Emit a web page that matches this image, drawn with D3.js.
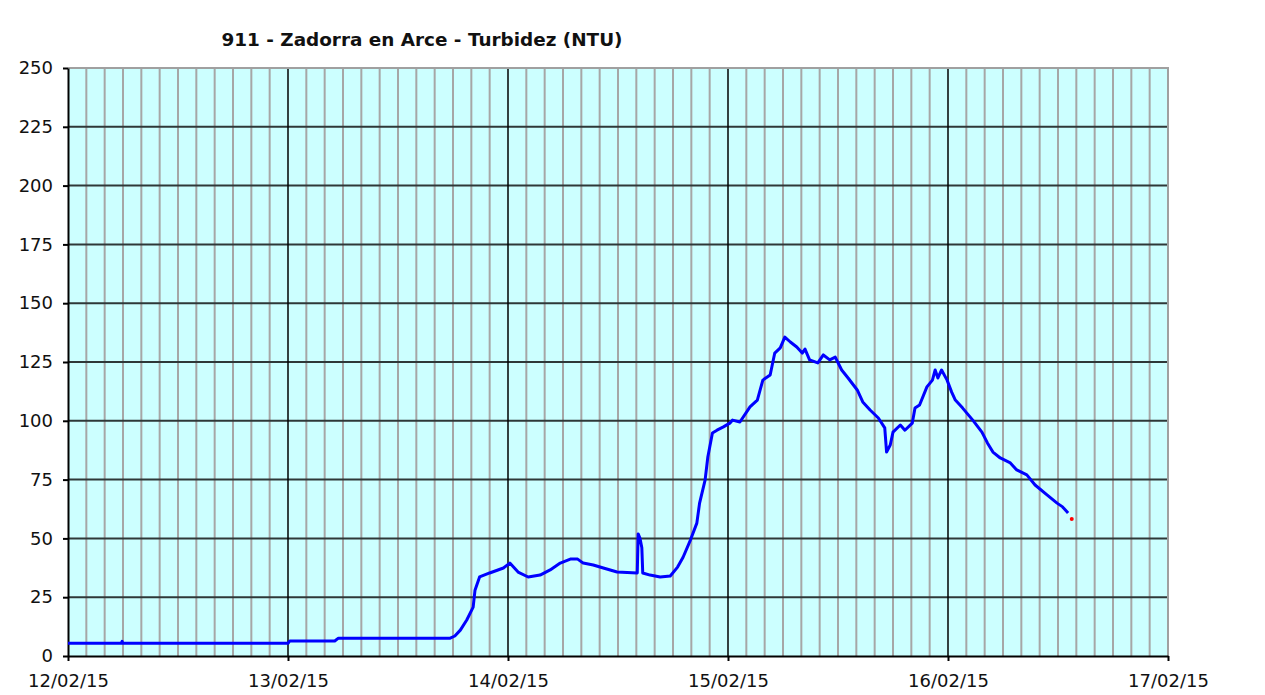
<!DOCTYPE html>
<html>
<head>
<meta charset="utf-8">
<script src="https://cdn.jsdelivr.net/npm/d3@7"></script>
<style>
  body { margin: 0; background: #ffffff; }
  svg { display: block; }
</style>
</head>
<body>
<div id="chart"></div>
<script>
// hours since 12/02/15 00:00 and turbidity (NTU)
const hours = [0, 5.8, 5.9, 6.0, 24, 24.2, 29.1, 29.5, 41.7, 42.2, 42.8, 43.5, 44.2, 44.4, 44.9, 46.0, 47.5,
  48.2, 49.1, 50.2, 51.5, 52.6, 53.7, 54.8, 55.6, 56.2, 57.3, 58.4, 59.9, 62.1, 62.2, 62.4, 62.6,
  62.7, 63.5, 64.6, 65.7, 66.5, 67.1, 67.9, 68.6, 68.9, 69.5, 69.8, 70.3, 70.8, 71.5, 72.2, 72.5,
  73.3, 74.4, 75.2, 75.8, 76.6, 77.1, 77.7, 78.2, 78.8, 79.5, 80.1, 80.4, 80.9, 81.8, 82.4, 83.1,
  83.7, 84.4, 85.1, 86.1, 86.7, 87.5, 88.4, 89.1, 89.3, 89.7, 90.0, 90.8, 91.3, 92.1, 92.4, 92.9,
  93.7, 94.3, 94.6, 94.9, 95.3, 95.9, 96.4, 96.8, 97.6, 98.7, 99.7, 100.3, 100.9, 101.7, 102.8,
  103.5, 104.6, 105.5, 106.8, 107.9, 108.5, 109.1];
const values = [5.4, 5.4, 6.2, 5.4, 5.4, 6.4, 6.4, 7.6, 7.6, 8.5, 11, 15.3, 20.8, 28, 33.6, 35.3, 37.4,
  39.5, 35.7, 33.6, 34.4, 36.6, 39.5, 41.2, 41.2, 39.5, 38.7, 37.4, 35.7, 35.3, 51.9, 50, 46,
  35.3, 34.4, 33.6, 34, 37.8, 42, 49.3, 56.5, 65, 74.8, 84.6, 94.8, 96, 97.4, 99, 100.3,
  99.5, 105.9, 108.8, 117.3, 119.5, 128.8, 131, 135.6, 133.5, 131.4, 128.8, 130.5, 125.9, 124.6, 128, 125.9,
  127.1, 121.6, 118.2, 113.1, 108, 104.6, 101.2, 97, 86.7, 89.7, 95.2, 98.2, 96, 99, 105.4, 106.7,
  114.4, 117.3, 121.6, 118.2, 121.6, 117.3, 112.2, 108.8, 105.4, 100.3, 95.2, 90.6, 86.7, 84.2, 82.1,
  79.1, 77, 72.7, 68.5, 65, 63.4, 60.8];
// last reading, drawn in red
const lastHour = 109.5;
const lastValue = 58.3;

const yTicks = [0, 25, 50, 75, 100, 125, 150, 175, 200, 225, 250];
const title = "911 - Zadorra en Arce - Turbidez (NTU)";

const start = new Date(2015, 1, 12, 0, 0);
const end = new Date(2015, 1, 17, 0, 0);
const toDate = h => new Date(start.getTime() + h * 3600 * 1000);

const margin = {top: 68, right: 97, bottom: 39, left: 68};
const W = 1265, H = 695;
const width = W - margin.left - margin.right;
const height = H - margin.top - margin.bottom;

const svg = d3.select("#chart").append("svg")
  .attr("width", W)
  .attr("height", H)
  .style("font-family", "Verdana, 'DejaVu Sans', sans-serif");

const g = svg.append("g")
  .attr("transform", `translate(${margin.left},${margin.top})`);

const x = d3.scaleTime().domain([start, end]).range([0, width]);
const y = d3.scaleLinear().domain([0, 250]).range([height, 0]);

// plot background
g.append("rect")
  .attr("width", width)
  .attr("height", height)
  .attr("fill", "#ccffff");

// minor vertical grid, every 2 hours
g.append("g").selectAll("line")
  .data(d3.timeHour.every(2).range(start, end).filter(d => d.getHours() != 0))
  .join("line")
    .attr("x1", d => x(d)).attr("x2", d => x(d))
    .attr("y1", 0).attr("y2", height)
    .attr("stroke", "#a6a6a6")
    .attr("stroke-width", 2);

// horizontal grid
g.append("g").selectAll("line")
  .data(yTicks.filter(d => d > 0 && d < 250))
  .join("line")
    .attr("x1", 0).attr("x2", width)
    .attr("y1", d => y(d)).attr("y2", d => y(d))
    .attr("stroke", "#2e3838")
    .attr("stroke-width", 2);

// day lines
g.append("g").selectAll("line")
  .data(d3.timeDay.range(d3.timeDay.offset(start, 1), end))
  .join("line")
    .attr("x1", d => x(d)).attr("x2", d => x(d))
    .attr("y1", 0).attr("y2", height)
    .attr("stroke", "#000")
    .attr("stroke-width", 1.5);

// top and right border
g.append("path")
  .attr("d", `M0,0H${width}V${height}`)
  .attr("fill", "none")
  .attr("stroke", "#a0a0a0")
  .attr("stroke-width", 2);

// axes
const yAxis = g.append("g")
  .call(d3.axisLeft(y).tickValues(yTicks).tickSize(5).tickSizeOuter(0).tickPadding(10));
const xAxis = g.append("g")
  .attr("transform", `translate(0,${height})`)
  .call(d3.axisBottom(x).ticks(d3.timeDay.every(1)).tickFormat(d3.timeFormat("%d/%m/%y"))
    .tickSize(5).tickSizeOuter(0).tickPadding(13));

[yAxis, xAxis].forEach(a => {
  a.select(".domain").attr("stroke", "#000").attr("stroke-width", 2);
  a.selectAll(".tick line").attr("stroke", "#000").attr("stroke-width", 2);
  a.selectAll("text")
    .attr("fill", "#111")
    .style("font-size", "18px")
    .style("font-family", "Verdana, 'DejaVu Sans', sans-serif");
});

// data line
const pts = hours.map((h, i) => ({t: toDate(h), v: values[i]}));
const line = d3.line().x(d => x(d.t)).y(d => y(d.v));

g.append("path")
  .datum(pts)
  .attr("d", line)
  .attr("fill", "none")
  .attr("stroke", "#0000ff")
  .attr("stroke-width", 3)
  .attr("stroke-linejoin", "round");

g.append("circle")
  .attr("cx", x(toDate(lastHour)))
  .attr("cy", y(lastValue))
  .attr("r", 2)
  .attr("fill", "#ff0000");

// title
svg.append("text")
  .attr("x", 422)
  .attr("y", 46)
  .attr("text-anchor", "middle")
  .style("font-size", "18.4px")
  .style("font-weight", "bold")
  .attr("fill", "#111")
  .text(title);
</script>
</body>
</html>
